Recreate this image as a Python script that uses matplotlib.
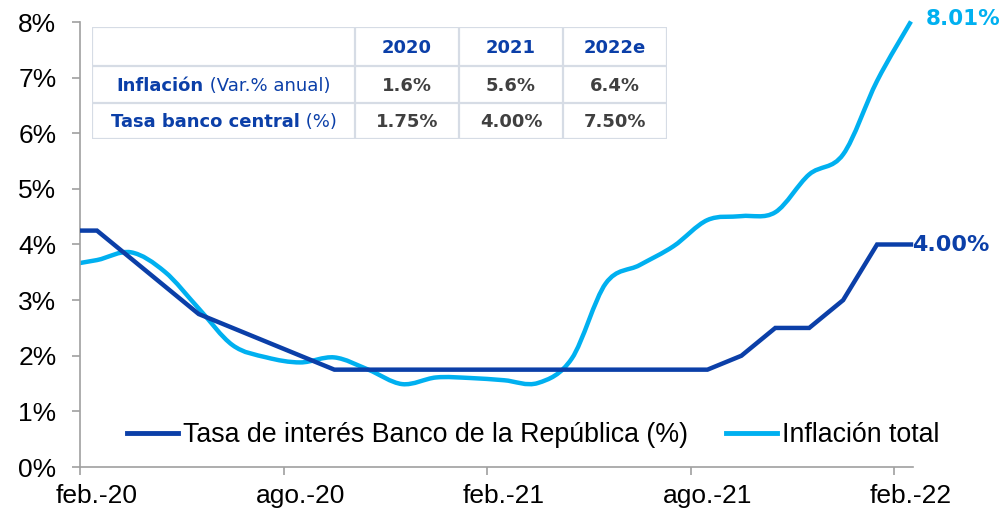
import matplotlib
matplotlib.use("Agg")
import matplotlib.pyplot as plt
from matplotlib.path import Path
from matplotlib.patches import PathPatch, Rectangle
from matplotlib.lines import Line2D
import numpy as np

# ---------------- data ----------------
months = ["ene.-20", "feb.-20", "mar.-20", "abr.-20", "may.-20", "jun.-20", "jul.-20",
          "ago.-20", "sep.-20", "oct.-20", "nov.-20", "dic.-20", "ene.-21", "feb.-21",
          "mar.-21", "abr.-21", "may.-21", "jun.-21", "jul.-21", "ago.-21", "sep.-21",
          "oct.-21", "nov.-21", "dic.-21", "ene.-22", "feb.-22"]
tasa = [4.25, 4.25, 3.75, 3.25, 2.75, 2.50, 2.25, 2.00, 1.75, 1.75, 1.75, 1.75, 1.75,
        1.75, 1.75, 1.75, 1.75, 1.75, 1.75, 1.75, 2.00, 2.50, 2.50, 3.00, 4.00, 4.00]
inflacion = [3.62, 3.72, 3.86, 3.51, 2.85, 2.19, 1.97, 1.88, 1.97, 1.75, 1.49, 1.61, 1.60,
             1.56, 1.51, 1.95, 3.30, 3.63, 3.97, 4.44, 4.51, 4.58, 5.26, 5.62, 6.94, 8.01]
tick_labels = ["feb.-20", "ago.-20", "feb.-21", "ago.-21", "feb.-22"]
y_ticks = [0, 1, 2, 3, 4, 5, 6, 7, 8]

table_years = ["2020", "2021", "2022e"]
table_rows_bold = ["Inflación", "Tasa banco central"]
table_rows_normal = [" (Var.% anual)", " (%)"]
table_infl = ["1.6%", "5.6%", "6.4%"]
table_tasa = ["1.75%", "4.00%", "7.50%"]

series_names = ["Tasa de interés Banco de la República (%)", "Inflación total"]

DARK = "#0B3FA8"
LIGHT = "#00B0F0"
GRAY_TXT = "#404040"
SPINE = "#A0A0A0"
GRID_T = "#D6DCE5"

# x positions: each month centred in its slot, feb.-20 slot starts at 0
x = np.arange(len(months)) - 0.5

fig = plt.figure(figsize=(10.07, 5.11), dpi=100)
ax = fig.add_axes([80 / 1007, 44 / 511, 833 / 1007, 445 / 511])

clip_rect = Rectangle((0, -0.05), 1.2, 1.2, transform=ax.transAxes, visible=False)
ax.add_patch(clip_rect)

# rate line (straight segments)
l1, = ax.plot(x, tasa, color=DARK, lw=3.2, solid_joinstyle="miter", zorder=3)
l1.set_clip_path(clip_rect)

# smoothed inflation line (Bezier through the data points)
pts = np.column_stack([x, inflacion])
verts = [tuple(pts[0])]
codes = [Path.MOVETO]
n = len(pts)
for i in range(n - 1):
    p0 = pts[max(i - 1, 0)]
    p1 = pts[i]
    p2 = pts[i + 1]
    p3 = pts[min(i + 2, n - 1)]
    c1 = p1 + (p2 - p0) / 6.0
    c2 = p2 - (p3 - p1) / 6.0
    verts += [tuple(c1), tuple(c2), tuple(p2)]
    codes += [Path.CURVE4] * 3
patch = PathPatch(Path(verts, codes), fill=False, edgecolor=LIGHT, lw=3.2,
                  transform=ax.transData, zorder=2)
ax.add_patch(patch)
patch.set_clip_path(clip_rect)

ax.set_xlim(0, 24.56)
ax.set_ylim(0, 8)

# axes styling
for s in ["top", "right"]:
    ax.spines[s].set_visible(False)
for s in ["left", "bottom"]:
    ax.spines[s].set_color(SPINE)
    ax.spines[s].set_linewidth(1.2)
ax.set_yticks(y_ticks)
ax.set_yticklabels([f"{v}%" for v in y_ticks])
# major x ticks at slot boundaries (marks only), labels centred on the month slot
ax.set_xticks([0, 6, 12, 18, 24])
ax.set_xticklabels([])
ax.set_xticks([0.5, 6.5, 12.5, 18.5, 24.5], minor=True)
ax.set_xticklabels(tick_labels, minor=True)
ax.tick_params(axis="both", which="major", direction="out", length=6, width=1.2,
               color=SPINE, labelsize=19, labelcolor="black")
ax.tick_params(axis="y", pad=11)
ax.tick_params(axis="x", which="minor", length=0, labelsize=19, pad=12)
for lab in ax.get_xticklabels(minor=True) + ax.get_yticklabels():
    lab.set_fontfamily("Liberation Sans")

# end labels
ax.annotate(f"{inflacion[-1]:.2f}%", xy=(x[-1], inflacion[-1]), xytext=(11, 2),
            textcoords="offset points", color=LIGHT, fontsize=15.5, fontweight="bold",
            family="DejaVu Sans", va="center", ha="left", annotation_clip=False)
ax.annotate(f"{tasa[-1]:.2f}%", xy=(x[-1], tasa[-1]), xytext=(0.5, 0),
            textcoords="offset points", color=DARK, fontsize=16, fontweight="bold",
            family="DejaVu Sans", va="center", ha="left", annotation_clip=False)

# legend
handles = [Line2D([], [], color=DARK, lw=3.5), Line2D([], [], color=LIGHT, lw=3.5)]
leg = ax.legend(handles, series_names, ncol=2, frameon=False,
                loc="center left", bbox_to_anchor=(47 / 833, 32 / 445),
                prop={"family": "Liberation Sans", "size": 19.3},
                handlelength=1.9, handletextpad=0.2, columnspacing=1.4,
                borderaxespad=0, borderpad=0)

# ---------------- table ----------------
tax = fig.add_axes([92 / 1007, (511 - 139) / 511, 575 / 1007, 112 / 511])
tax.set_xlim(0, 575)
tax.set_ylim(112, 0)
tax.axis("off")
tax.add_patch(Rectangle((0, 0), 575, 112, facecolor="white", edgecolor="none", zorder=0))
col_edges = [0, 263, 367, 471, 575]
row_edges = [0, 39, 76, 112]
for cx in col_edges:
    tax.plot([cx, cx], [0, 112], color=GRID_T, lw=1.6, zorder=1)
for ry in row_edges:
    tax.plot([0, 575], [ry, ry], color=GRID_T, lw=1.6, zorder=1)

col_c = [(col_edges[i] + col_edges[i + 1]) / 2 for i in range(4)]
row_c = [(row_edges[i] + row_edges[i + 1]) / 2 for i in range(3)]
TF = "DejaVu Sans"
TS = 13
for j, yr in enumerate(table_years):
    tax.text(col_c[j + 1], row_c[0] + 1, yr, ha="center", va="center", color=DARK,
             fontsize=TS, fontweight="bold", family=TF)
for j, v in enumerate(table_infl):
    tax.text(col_c[j + 1], row_c[1] + 1, v, ha="center", va="center", color=GRAY_TXT,
             fontsize=TS, fontweight="bold", family=TF)
for j, v in enumerate(table_tasa):
    tax.text(col_c[j + 1], row_c[2] + 1, v, ha="center", va="center", color=GRAY_TXT,
             fontsize=TS, fontweight="bold", family=TF)

renderer = fig.canvas.get_renderer()
for i in range(2):
    tb = tax.text(0, row_c[i + 1] + 1, table_rows_bold[i], ha="left", va="center",
                  color=DARK, fontsize=TS, fontweight="bold", family=TF)
    tn = tax.text(0, row_c[i + 1] + 1, table_rows_normal[i], ha="left", va="center",
                  color=DARK, fontsize=TS, family=TF)
    wb = tb.get_window_extent(renderer).width
    wn = tn.get_window_extent(renderer).width
    start = col_c[0] - (wb + wn) / 2  # 1 data unit = 1 pixel in this axes
    tb.set_x(start)
    tn.set_x(start + wb)

fig.savefig("out.png", dpi=100)
